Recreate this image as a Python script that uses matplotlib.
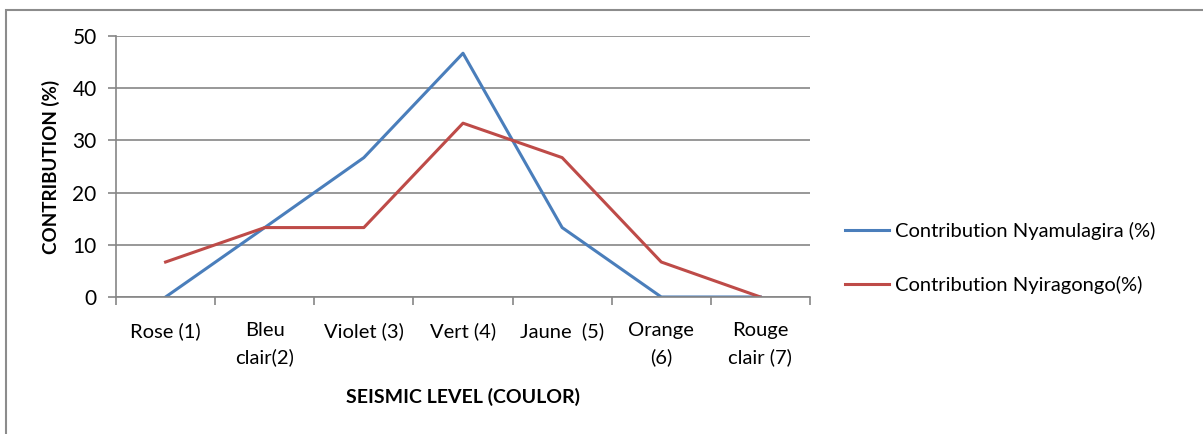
import matplotlib
matplotlib.use("Agg")
import matplotlib.pyplot as plt
from matplotlib.patches import Rectangle

categories = ["Rose (1)", "Bleu\nclair(2)", "Violet (3)", "Vert (4)", "Jaune  (5)",
              "Orange\n(6)", "Rouge\nclair (7)"]
nyamulagira = [0, 13.3, 26.7, 46.7, 13.3, 0, 0]
nyiragongo = [6.7, 13.3, 13.3, 33.3, 26.7, 6.7, 0]
series_names = ["Contribution Nyamulagira (%)", "Contribution Nyiragongo(%)"]
yticks = [0, 10, 20, 30, 40, 50]

plt.rcParams["font.family"] = ["Lato", "DejaVu Sans"]

W, H = 1203, 434
fig = plt.figure(figsize=(W / 100, H / 100), dpi=100)
fig.patch.set_facecolor("white")

# outer chart frame
fig.patches.append(Rectangle((6 / W, -0.05), 1.1, 1 - 10 / H + 0.05,
                             transform=fig.transFigure, fill=False,
                             edgecolor="#8c8c8c", linewidth=1.5))

ax = fig.add_axes([116 / W, 1 - 297 / H, (810 - 116) / W, (297 - 36) / H])
x = list(range(len(categories)))
ax.plot(x, nyamulagira, color="#4A7EBB", linewidth=2.2, label=series_names[0])
ax.plot(x, nyiragongo, color="#BE4B48", linewidth=2.2, label=series_names[1])

ax.set_xlim(-0.5, len(categories) - 0.5)
ax.set_ylim(0, 50)
ax.set_yticks(yticks)
ax.set_yticklabels([str(v) for v in yticks], fontsize=15)
ax.set_xticks(x)
ax.set_xticklabels(categories, fontsize=14.5, linespacing=1.6, va="top")
ax.tick_params(axis="x", length=0, pad=18)
ax.tick_params(axis="y", length=6, width=1.2, color="#868686", pad=8)

# category boundary ticks
ax.set_xticks([i - 0.5 for i in range(len(categories) + 1)], minor=True)
ax.tick_params(axis="x", which="minor", length=6, width=1.2, color="#868686", direction="out")

ax.grid(axis="y", color="#868686", linewidth=1.2)
ax.set_axisbelow(True)
for s in ["top", "right"]:
    ax.spines[s].set_visible(False)
for s in ["left", "bottom"]:
    ax.spines[s].set_color("#868686")
    ax.spines[s].set_linewidth(1.2)

ax.set_ylabel("CONTRIBUTION (%)", fontsize=13.5, fontweight="bold", labelpad=9)
ax.set_xlabel("SEISMIC LEVEL (COULOR)", fontsize=14, fontweight="bold", labelpad=16)

ax.legend(loc="center left", bbox_to_anchor=(827 / W, 1 - 258 / H),
          bbox_transform=fig.transFigure, frameon=False, fontsize=14.5,
          handlelength=2.2, handletextpad=0.3, labelspacing=1.75)

fig.savefig("out.png", dpi=100)
